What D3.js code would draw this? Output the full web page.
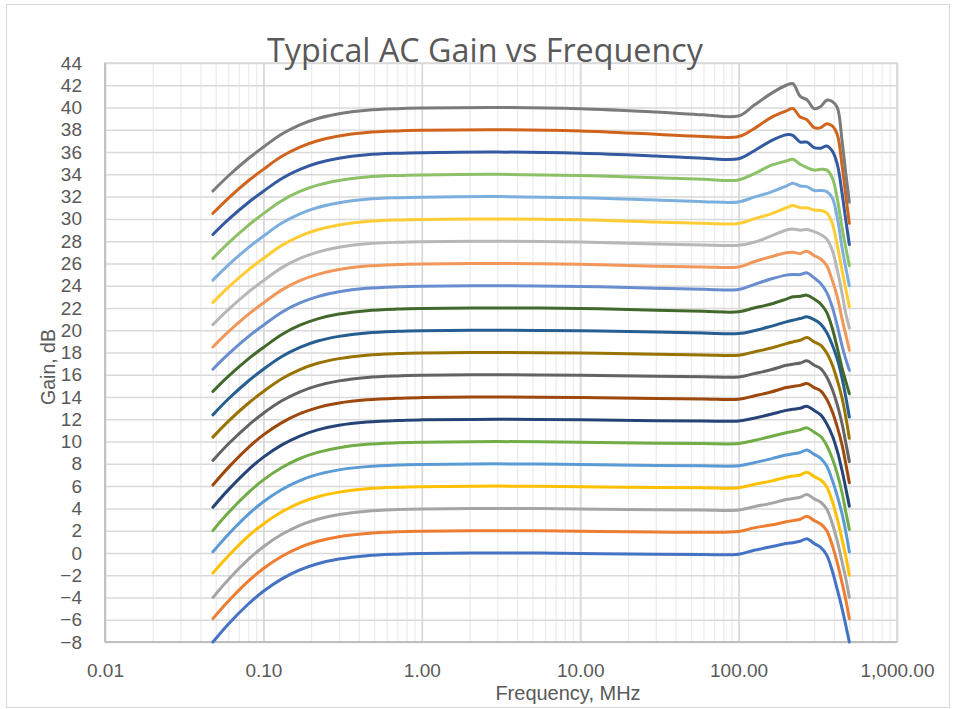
<!DOCTYPE html>
<html>
<head>
<meta charset="utf-8">
<script src="https://cdn.jsdelivr.net/npm/d3@7/dist/d3.min.js"></script>
<style>
  html, body { margin: 0; padding: 0; background: #ffffff; }
  svg { display: block; }
  text { font-family: "Liberation Sans", Arial, sans-serif; fill: #595959; }
</style>
</head>
<body>
<svg id="chart" width="956" height="709"></svg>
<script>
// ---------------- DATA ----------------
const titleText = "Typical AC Gain vs Frequency";
const xTitle = "Frequency, MHz";
const yTitle = "Gain, dB";

const xTickValues = [0.01, 0.1, 1, 10, 100, 1000];
const xTickLabels = ["0.01", "0.10", "1.00", "10.00", "100.00", "1,000.00"];
const yTickValues = [-8,-6,-4,-2,0,2,4,6,8,10,12,14,16,18,20,22,24,26,28,30,32,34,36,38,40,42,44];

const freqs = [0.048,0.06,0.08,0.1,0.13,0.17,0.22,0.3,0.45,0.7, 1,3,10,30,60,100, 125,160,200,220,245,270,300,330,360,390,420,450,475,500];

const g00 = [-8,-6.4,-4.61,-3.44,-2.35,-1.52,-0.97,-0.55,-0.25,-0.11, -0.05,0,-0.05,-0.12,-0.15,-0.12, 0.24,0.55,0.84,0.92,1.05,1.28,0.85,0.5,-0.2,-1.6,-3.3,-5,-6.5,-8];
const g02 = [-5.9,-4.34,-2.56,-1.4,-0.32,0.5,1.05,1.46,1.75,1.9, 1.95,2,1.95,1.88,1.85,1.92, 2.25,2.5,2.8,2.9,3.02,3.3,2.9,2.6,2,0.7,-0.9,-2.7,-4.2,-5.9];
const g04 = [-4,-2.4,-0.61,0.56,1.65,2.48,3.03,3.45,3.75,3.89, 3.95,4,3.95,3.87,3.85,3.85, 4.15,4.45,4.8,4.88,5,5.24,4.85,4.55,3.95,2.65,1.05,-0.8,-2.3,-4];
const g06 = [-1.8,-0.27,1.48,2.6,3.67,4.49,5.04,5.46,5.76,5.9, 5.95,6,5.95,5.87,5.85,5.85, 6.15,6.45,6.8,6.9,7,7.25,6.85,6.55,5.95,4.65,3.05,1.2,-0.3,-2];
const g08 = [0.1,1.66,3.44,4.6,5.68,6.5,7.05,7.46,7.75,7.9, 7.95,8,7.95,7.85,7.82,7.82, 8.1,8.45,8.8,8.9,9.02,9.25,8.85,8.5,7.8,6.55,5.1,3.5,1.9,0.1];
const g10 = [2,3.6,5.39,6.56,7.65,8.48,9.03,9.45,9.75,9.89, 9.95,10,9.95,9.85,9.82,9.82, 10.1,10.45,10.8,10.9,11.05,11.23,10.85,10.45,9.65,8.5,7.1,5.4,3.7,2.1];
const g12 = [4.1,5.66,7.44,8.6,9.68,10.5,11.05,11.46,11.75,11.9, 11.95,12,11.95,11.87,11.85,11.85, 12.1,12.45,12.8,12.9,13,13.17,12.8,12.4,11.6,10.55,9.15,7.4,5.8,4.2];
const g14 = [6.1,7.66,9.44,10.6,11.68,12.5,13.05,13.46,13.75,13.9, 13.95,14,13.95,13.87,13.82,13.8, 14.1,14.45,14.85,14.95,15.05,15.21,14.85,14.55,13.8,12.7,11.3,9.7,8,6.3];
const g16 = [8.3,9.78,11.44,12.55,13.64,14.47,15.03,15.45,15.76,15.9, 15.95,16,15.95,15.87,15.82,15.8, 16.1,16.45,16.85,16.95,17.05,17.25,16.86,16.56,15.8,14.7,13.3,11.6,9.9,8.2];
const g18 = [10.4,11.82,13.42,14.5,15.62,16.46,17.03,17.45,17.76,17.9, 17.95,18,17.95,17.85,17.78,17.75, 18.05,18.4,18.8,18.95,19.1,19.34,18.95,18.65,17.95,16.9,15.5,13.9,12.2,10.3];
const g20 = [12.4,13.82,15.42,16.5,17.62,18.46,19.03,19.45,19.76,19.9, 19.95,20,19.95,19.85,19.75,19.7, 19.95,20.35,20.75,20.9,21.05,21.2,20.95,20.55,19.8,18.7,17.4,15.7,14,12.2];
const g22 = [14.5,15.85,17.4,18.45,19.6,20.45,21.02,21.45,21.76,21.9, 21.95,22,21.95,21.8,21.7,21.65, 22,22.35,22.8,23,23.05,23.15,22.8,22.35,21.6,20.2,18.4,16.6,15.4,14.3];
const g24 = [16.5,17.85,19.4,20.45,21.6,22.45,23.02,23.45,23.76,23.9, 23.95,24,23.93,23.78,23.68,23.65, 24.1,24.6,24.95,25,25,25.15,24.7,24.2,23.4,22.1,20.4,18.6,17.4,16.4];
const g26 = [18.5,19.85,21.4,22.45,23.6,24.45,25.02,25.45,25.76,25.9, 25.95,26,25.92,25.75,25.68,25.68, 26.15,26.6,26.95,27,26.9,27.1,26.7,26.4,25.8,24.5,23,21,19.6,18.2];
const g28 = [20.5,21.85,23.4,24.45,25.6,26.45,27.02,27.45,27.76,27.9, 27.95,28,27.92,27.75,27.65,27.63, 27.9,28.45,29,29.1,28.98,29.05,28.85,28.6,28.2,27.2,25.4,23.3,21.5,20.2];
const g30 = [22.5,23.85,25.4,26.45,27.6,28.45,29.02,29.45,29.76,29.9, 29.95,30,29.92,29.72,29.6,29.58, 30,30.45,31,31.2,31,31,30.8,30.75,30.55,29.6,27.6,25.4,23.7,22.1];
const g32 = [24.5,25.85,27.4,28.45,29.6,30.45,31.02,31.45,31.76,31.9, 31.95,32,31.9,31.7,31.55,31.52, 31.95,32.4,32.95,33.2,32.95,32.9,32.55,32.55,32.45,31.9,30.1,27.4,25.6,24];
const g34 = [26.45,27.83,29.4,30.47,31.61,32.46,33.03,33.45,33.76,33.9, 33.95,34,33.9,33.7,33.55,33.5, 34.05,34.8,35.2,35.35,34.9,34.6,34.38,34.45,34.4,33.7,31.8,29.2,27.4,25.8];
const g36 = [28.6,29.93,31.45,32.48,33.61,34.45,35.02,35.45,35.76,35.9, 35.95,36,35.9,35.65,35.45,35.4, 36.1,37,37.55,37.5,36.9,36.9,36.4,36.35,36.55,36.1,34.9,32.3,29.9,27.7];
const g38 = [30.5,31.85,33.4,34.45,35.6,36.45,37.02,37.45,37.76,37.9, 37.95,38,37.9,37.6,37.4,37.4, 38.1,39.1,39.7,39.9,39.15,38.9,38.2,38.2,38.55,38.35,37.55,34.8,32.1,29.6];
const g40 = [32.5,33.85,35.4,36.45,37.6,38.45,39.02,39.45,39.76,39.9, 39.95,40,39.9,39.6,39.35,39.25, 40.2,41.25,42,42.15,41,40.7,39.9,40.1,40.65,40.55,40,37,34.1,31.5];

const seriesValues = [g00,g02,g04,g06,g08,g10,g12,g14,g16,g18,g20,g22,g24,g26,g28,g30,g32,g34,g36,g38,g40];
const seriesColors = ["#4472C4","#ED7D31","#A5A5A5","#FFC000","#5B9BD5","#70AD47",
                      "#264478","#9E480E","#636363","#997300","#255E91","#43682B",
                      "#698ED0","#F1975A","#B7B7B7","#FFCD33","#7CAFDD","#8CC168",
                      "#335AA1","#D0641C","#7B7B7B"];

// ---------------- LAYOUT ----------------
const svg = d3.select("#chart");
const plot = { left: 105, right: 897, top: 63, bottom: 642 };

// chart area border
svg.append("rect")
  .attr("x", 6.5).attr("y", 4.5).attr("width", 943).attr("height", 703)
  .attr("fill", "#ffffff").attr("stroke", "#d9d9d9").attr("stroke-width", 1);

const x = d3.scaleLog().domain([0.01, 1000]).range([plot.left, plot.right]);
const y = d3.scaleLinear().domain([-8, 44]).range([plot.bottom, plot.top]);

// minor vertical gridlines
const minorTicks = [];
[0.01, 0.1, 1, 10, 100].forEach(d => { for (let k = 2; k <= 9; k++) minorTicks.push(d * k); });

const gMinor = svg.append("g")
  .attr("transform", `translate(0,${plot.bottom})`)
  .call(d3.axisBottom(x).tickValues(minorTicks).tickSize(-(plot.bottom - plot.top)).tickFormat(""));
gMinor.select(".domain").remove();
gMinor.selectAll("line").attr("stroke", "#ececec").attr("stroke-width", 1.3);

// horizontal gridlines
const gH = svg.append("g")
  .attr("transform", `translate(${plot.left},0)`)
  .call(d3.axisLeft(y).tickValues(yTickValues).tickSize(-(plot.right - plot.left)).tickFormat(""));
gH.select(".domain").remove();
gH.selectAll("line").attr("stroke", "#d9d9d9").attr("stroke-width", 1.5);

// major vertical gridlines
const gMajor = svg.append("g")
  .attr("transform", `translate(0,${plot.bottom})`)
  .call(d3.axisBottom(x).tickValues(xTickValues).tickSize(-(plot.bottom - plot.top)).tickFormat(""));
gMajor.select(".domain").remove();
gMajor.selectAll("line").attr("stroke", "#d9d9d9").attr("stroke-width", 1.8);

// plot border
svg.append("rect")
  .attr("x", plot.left).attr("y", plot.top)
  .attr("width", plot.right - plot.left).attr("height", plot.bottom - plot.top)
  .attr("fill", "none").attr("stroke", "#d9d9d9").attr("stroke-width", 1.5);

// axis lines
svg.append("line").attr("x1", plot.left).attr("x2", plot.left)
  .attr("y1", plot.top).attr("y2", plot.bottom).attr("stroke", "#bfbfbf").attr("stroke-width", 1.8);
svg.append("line").attr("x1", plot.left).attr("x2", plot.right)
  .attr("y1", plot.bottom).attr("y2", plot.bottom).attr("stroke", "#bfbfbf").attr("stroke-width", 1.8);

// series lines
const line = d3.line()
  .x(d => x(d[0]))
  .y(d => y(d[1]))
  .curve(d3.curveCatmullRom.alpha(0.5));

const gLines = svg.append("g");
seriesValues.forEach((vals, i) => {
  const pts = freqs.map((f, j) => [f, vals[j]]);
  gLines.append("path")
    .attr("d", line(pts))
    .attr("fill", "none")
    .attr("stroke", seriesColors[i])
    .attr("stroke-width", 3)
    .attr("stroke-linejoin", "round")
    .attr("stroke-linecap", "round");
});

// y axis labels
const yAxis = svg.append("g")
  .attr("transform", `translate(${plot.left},0)`)
  .call(d3.axisLeft(y).tickValues(yTickValues).tickSize(0).tickPadding(23).tickFormat(d3.format("d")));
yAxis.select(".domain").remove();
yAxis.selectAll("text")
  .style("font-family", '"Liberation Sans", Arial, sans-serif')
  .style("font-size", "19px").attr("fill", "#595959");

// x axis labels
const xAxis = svg.append("g")
  .attr("transform", `translate(0,${plot.bottom})`)
  .call(d3.axisBottom(x).tickValues(xTickValues).tickSize(0).tickPadding(22)
    .tickFormat((d, i) => xTickLabels[i]));
xAxis.select(".domain").remove();
xAxis.selectAll("text")
  .style("font-family", '"Liberation Sans", Arial, sans-serif')
  .style("font-size", "19px").attr("fill", "#595959");

// title
const title = svg.append("text")
  .attr("x", 485).attr("y", 62)
  .attr("text-anchor", "middle")
  .style("font-family", '"Open Sans", sans-serif')
  .style("font-size", "30px")
  .attr("fill", "#595959")
  .text(titleText);
const tw = title.node().getComputedTextLength();
title.style("font-size", (30 * 436 / tw).toFixed(2) + "px");

// axis titles
const xt = svg.append("text")
  .attr("x", 568).attr("y", 700)
  .attr("text-anchor", "middle")
  .style("font-size", "20px")
  .attr("fill", "#595959")
  .text(xTitle);
const xtw = xt.node().getComputedTextLength();
xt.style("font-size", Math.min(20, 20 * 174 / xtw).toFixed(2) + "px");

const yt = svg.append("text")
  .attr("transform", "translate(55,367) rotate(-90)")
  .attr("text-anchor", "middle")
  .style("font-size", "20px")
  .attr("fill", "#595959")
  .text(yTitle);
const ytw = yt.node().getComputedTextLength();
yt.style("font-size", Math.min(20, 20 * 76 / ytw).toFixed(2) + "px");
</script>
</body>
</html>
